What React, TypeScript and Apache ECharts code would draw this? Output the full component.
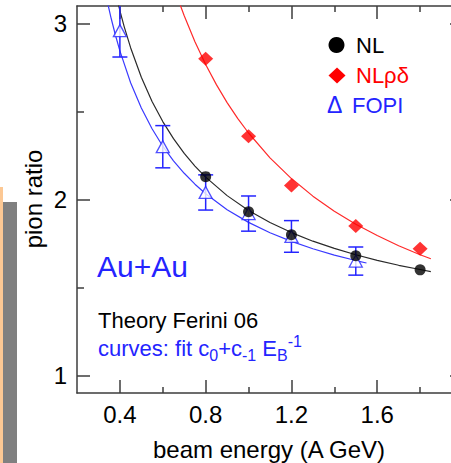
import React, { useEffect, useRef } from 'react';
import * as echarts from 'echarts';

// ---- data ----
const nlEnergy = [0.8, 1.0, 1.2, 1.5, 1.8];
const nlRatio = [2.13, 1.93, 1.8, 1.68, 1.6];

const nlrdEnergy = [0.8, 1.0, 1.2, 1.5, 1.8];
const nlrdRatio = [2.8, 2.36, 2.08, 1.85, 1.72];

const fopiEnergy = [0.4, 0.6, 0.8, 1.0, 1.2, 1.5];
const fopiRatio = [2.96, 2.3, 2.04, 1.92, 1.79, 1.65];
const fopiError = [0.15, 0.12, 0.1, 0.1, 0.09, 0.08];

// fit curves
const nlFitEnergy = [0.38, 0.4, 0.42, 0.45, 0.5, 0.55, 0.6, 0.65, 0.7, 0.75, 0.8, 0.9, 1.0, 1.1, 1.2, 1.3, 1.4, 1.5, 1.6, 1.7, 1.8, 1.85];
const nlFitRatio = [3.173, 3.074, 2.983, 2.863, 2.695, 2.557, 2.443, 2.346, 2.262, 2.19, 2.127, 2.022, 1.938, 1.869, 1.812, 1.763, 1.722, 1.686, 1.654, 1.626, 1.602, 1.59];

const nlrdFitEnergy = [0.66, 0.68, 0.7, 0.75, 0.8, 0.85, 0.9, 0.95, 1.0, 1.1, 1.2, 1.3, 1.4, 1.5, 1.6, 1.7, 1.8, 1.85];
const nlrdFitRatio = [3.18, 3.11, 3.045, 2.897, 2.767, 2.653, 2.551, 2.46, 2.378, 2.237, 2.119, 2.019, 1.933, 1.859, 1.795, 1.737, 1.686, 1.663];

const fopiFitEnergy = [0.34, 0.36, 0.38, 0.4, 0.45, 0.5, 0.55, 0.6, 0.65, 0.7, 0.75, 0.8, 0.9, 1.0, 1.1, 1.2, 1.3, 1.4, 1.5, 1.55];
const fopiFitRatio = [3.132, 3.026, 2.931, 2.845, 2.664, 2.52, 2.402, 2.303, 2.22, 2.149, 2.087, 2.033, 1.942, 1.87, 1.811, 1.762, 1.72, 1.684, 1.653, 1.639];

// axis ticks / labels
const xMajorTicks = [0.4, 0.8, 1.2, 1.6, 2.0];
const xLabelValues = [0.4, 0.8, 1.2, 1.6];
const xMinorTicks = [0.6, 1.0, 1.4, 1.8];
const yMajorTicks = [1, 2, 3];
const yLabelValues = [1, 2, 3];
const yMinorTicks = [1.5, 2.5];

const FONT = '"Liberation Sans", Arial, Helvetica, sans-serif';
const BLUE = '#2424ff';
const RED = '#ff0000';
const AXIS = '#3c3c3c';

export default function App() {
  const ref = useRef<HTMLDivElement>(null);

  useEffect(() => {
    if (!ref.current) return;
    const chart = echarts.init(ref.current, null, { renderer: 'svg' });

    const axisLine = { show: true, lineStyle: { color: AXIS, width: 1.5 } };
    const tickStyle = { color: AXIS, width: 1.5 };

    const xBase = { type: 'value', min: 0.2, max: 2.0, splitLine: { show: false } };
    const yBase = { type: 'value', min: 0.9, max: 3.1, splitLine: { show: false } };

    const curve = (name: string, xs: number[], ys: number[], color: string) => ({
      name,
      type: 'line',
      data: xs.map((e, i) => [e, ys[i]]),
      smooth: false,
      showSymbol: false,
      symbol: 'none',
      lineStyle: { color, width: 1.2 },
      clip: true,
      z: 2,
    });

    const option: any = {
      animation: false,
      backgroundColor: '#fff',
      grid: { left: 77, top: 6, width: 386, height: 387 },
      xAxis: [
        {
          ...xBase,
          position: 'bottom',
          axisLine,
          axisTick: { show: true, inside: true, length: 13, customValues: xMajorTicks, lineStyle: tickStyle },
          axisLabel: {
            show: true,
            customValues: xLabelValues,
            fontSize: 24,
            fontFamily: FONT,
            color: '#000',
            margin: 9,
            formatter: (v: number) => String(v),
          },
        },
        {
          ...xBase,
          position: 'bottom',
          axisLine: { show: false },
          axisTick: { show: true, inside: true, length: 6, customValues: xMinorTicks, lineStyle: tickStyle },
          axisLabel: { show: false },
        },
        {
          ...xBase,
          position: 'top',
          axisLine,
          axisTick: { show: true, inside: true, length: 13, customValues: xMajorTicks, lineStyle: tickStyle },
          axisLabel: { show: false },
        },
        {
          ...xBase,
          position: 'top',
          axisLine: { show: false },
          axisTick: { show: true, inside: true, length: 6, customValues: xMinorTicks, lineStyle: tickStyle },
          axisLabel: { show: false },
        },
      ],
      yAxis: [
        {
          ...yBase,
          position: 'left',
          axisLine,
          axisTick: { show: true, inside: true, length: 13, customValues: yMajorTicks, lineStyle: tickStyle },
          axisLabel: {
            show: true,
            customValues: yLabelValues,
            fontSize: 24,
            fontFamily: FONT,
            color: '#000',
            margin: 10,
          },
        },
        {
          ...yBase,
          position: 'left',
          axisLine: { show: false },
          axisTick: { show: true, inside: true, length: 7, customValues: yMinorTicks, lineStyle: tickStyle },
          axisLabel: { show: false },
        },
        {
          ...yBase,
          position: 'right',
          axisLine,
          axisTick: { show: true, inside: true, length: 13, customValues: yMajorTicks, lineStyle: tickStyle },
          axisLabel: { show: false },
        },
        {
          ...yBase,
          position: 'right',
          axisLine: { show: false },
          axisTick: { show: true, inside: true, length: 7, customValues: yMinorTicks, lineStyle: tickStyle },
          axisLabel: { show: false },
        },
      ],
      series: [
        curve('NL fit', nlFitEnergy, nlFitRatio, '#2a2a2a'),
        curve('NLrd fit', nlrdFitEnergy, nlrdFitRatio, '#ff2a2a'),
        curve('FOPI fit', fopiFitEnergy, fopiFitRatio, '#3a3aff'),
        {
          name: 'FOPI errors',
          type: 'custom',
          data: fopiEnergy.map((e, i) => [e, fopiRatio[i] - fopiError[i], fopiRatio[i] + fopiError[i]]),
          renderItem: (params: any, api: any) => {
            const lo = api.coord([api.value(0), api.value(1)]);
            const hi = api.coord([api.value(0), api.value(2)]);
            const hw = 7.5;
            const style = { stroke: BLUE, lineWidth: 1.5, fill: 'none' };
            return {
              type: 'group',
              children: [
                { type: 'line', shape: { x1: lo[0], y1: lo[1], x2: hi[0], y2: hi[1] }, style },
                { type: 'line', shape: { x1: lo[0] - hw, y1: lo[1], x2: lo[0] + hw, y2: lo[1] }, style },
                { type: 'line', shape: { x1: hi[0] - hw, y1: hi[1], x2: hi[0] + hw, y2: hi[1] }, style },
              ],
            };
          },
          clip: true,
          z: 3,
        },
        {
          name: 'FOPI',
          type: 'scatter',
          data: fopiEnergy.map((e, i) => [e, fopiRatio[i]]),
          symbol: 'triangle',
          symbolSize: [13, 12],
          itemStyle: { color: '#fff', borderColor: BLUE, borderWidth: 1.3 },
          z: 4,
        },
        {
          name: 'NLrd',
          type: 'scatter',
          data: nlrdEnergy.map((e, i) => [e, nlrdRatio[i]]),
          symbol: 'diamond',
          symbolSize: [15, 14],
          itemStyle: { color: RED },
          z: 5,
        },
        {
          name: 'NL',
          type: 'scatter',
          data: nlEnergy.map((e, i) => [e, nlRatio[i]]),
          symbol: 'circle',
          symbolSize: 11,
          itemStyle: { color: '#000' },
          z: 5,
        },
      ],
      graphic: [
        // left decoration strips
        { type: 'rect', shape: { x: 0, y: 187, width: 3, height: 276 }, style: { fill: '#fcc894' }, silent: true },
        { type: 'rect', shape: { x: 3, y: 202, width: 14, height: 261 }, style: { fill: '#808080' }, silent: true },
        // axis titles
        {
          type: 'text',
          x: 33,
          y: 199,
          rotation: Math.PI / 2,
          style: { text: 'pion ratio', fontSize: 24, fontFamily: FONT, fill: '#000', align: 'center', verticalAlign: 'middle' },
        },
        {
          type: 'text',
          x: 269,
          y: 449,
          style: { text: 'beam energy (A GeV)', fontSize: 24, fontFamily: FONT, fill: '#000', align: 'center', verticalAlign: 'middle' },
        },
        // legend
        { type: 'circle', shape: { cx: 336.5, cy: 45, r: 8 }, style: { fill: '#000' } },
        {
          type: 'text',
          x: 356,
          y: 45,
          style: { text: 'NL', fontSize: 22, fontFamily: FONT, fill: '#000', align: 'left', verticalAlign: 'middle' },
        },
        {
          type: 'polygon',
          shape: { points: [[337, 67.5], [345.5, 75.5], [337, 83.5], [328.5, 75.5]] },
          style: { fill: RED },
        },
        {
          type: 'text',
          x: 356,
          y: 75,
          style: { text: 'NLρδ', fontSize: 22, fontFamily: FONT, fill: RED, align: 'left', verticalAlign: 'middle' },
        },
        {
          type: 'text',
          x: 327,
          y: 105,
          style: { text: 'Δ', fontSize: 23, fontFamily: FONT, fill: BLUE, align: 'left', verticalAlign: 'middle' },
        },
        {
          type: 'text',
          x: 352,
          y: 105,
          style: { text: 'FOPI', fontSize: 22, fontFamily: FONT, fill: BLUE, align: 'left', verticalAlign: 'middle' },
        },
        // annotations
        {
          type: 'text',
          x: 97,
          y: 266,
          style: { text: 'Au+Au', fontSize: 30, fontFamily: FONT, fill: BLUE, align: 'left', verticalAlign: 'middle' },
        },
        {
          type: 'text',
          x: 98,
          y: 320,
          style: { text: 'Theory Ferini 06', fontSize: 22, fontFamily: FONT, fill: '#000', align: 'left', verticalAlign: 'middle' },
        },
        {
          type: 'text',
          x: 98,
          y: 348,
          style: {
            text: '{m|curves: fit c}{s|0}{m|+c}{s|-1}{m| E}{s|B}{p|-1}',
            fontFamily: FONT,
            fill: BLUE,
            align: 'left',
            verticalAlign: 'middle',
            rich: {
              m: { fontSize: 22, lineHeight: 30, fontFamily: FONT, fill: BLUE },
              s: { fontSize: 16, lineHeight: 14, verticalAlign: 'bottom', fontFamily: FONT, fill: BLUE },
              p: { fontSize: 16, lineHeight: 14, verticalAlign: 'top', fontFamily: FONT, fill: BLUE },
            },
          },
        },
      ],
    };

    chart.setOption(option);
    return () => chart.dispose();
  }, []);

  return (
    <div
      style={{
        position: 'fixed',
        left: 0,
        top: 0,
        width: 451,
        height: 463,
        overflow: 'hidden',
        background: '#fff',
      }}
    >
      <div ref={ref} style={{ width: 480, height: 463 }} />
    </div>
  );
}
